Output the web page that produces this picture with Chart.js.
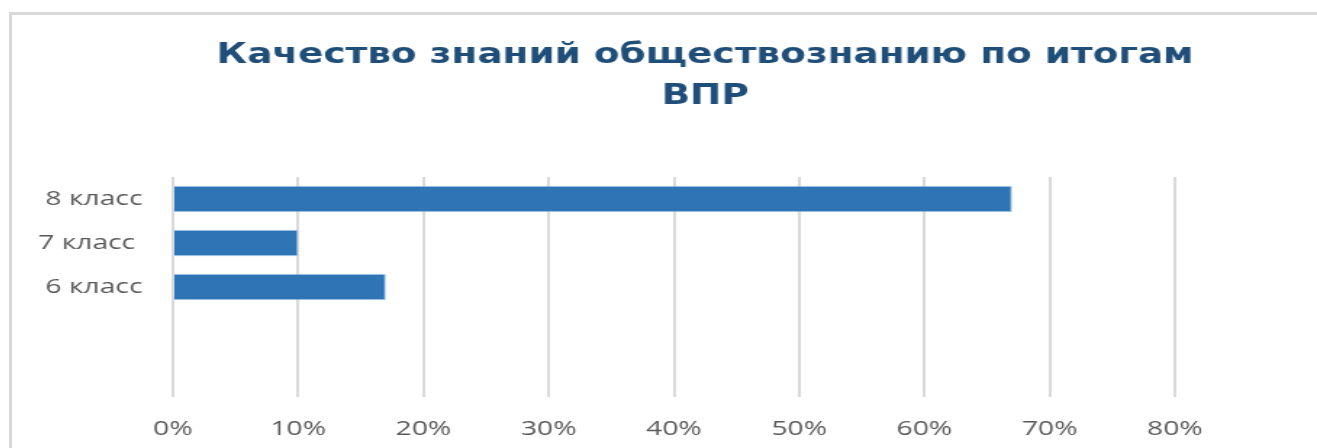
<!DOCTYPE html>
<html>
<head>
<meta charset="utf-8">
<script src="https://cdn.jsdelivr.net/npm/chart.js@4/dist/chart.umd.min.js"></script>
<style>
  html, body { margin: 0; padding: 0; background: #fff; overflow: hidden; width: 1317px; height: 448px; }
  #frame { position: absolute; left: 9px; top: 12px; width: 1400px; height: 460px;
           border-left: 3px solid #d9d9d9; border-top: 3px solid #d9d9d9; background: #fff; }
  #stretch { position: absolute; left: 0; top: 0; transform-origin: 0 0; transform: scaleX(1.45); }
</style>
</head>
<body>
<div id="frame"><div id="stretch"><canvas id="c" width="956" height="433"></canvas></div></div>
<script>
const titleLines = ['Качество знаний обществознанию по итогам', 'ВПР'];
const categories = ['8 класс', '7 класс ', '6 класс', '', ''];
const values = [67, 10, 17, null, null];
const tickLabels = ['0%', '10%', '20%', '30%', '40%', '50%', '60%', '70%', '80%'];

const ctx = document.getElementById('c');
new Chart(ctx, {
  type: 'bar',
  data: {
    labels: categories,
    datasets: [{
      data: values,
      backgroundColor: '#2E75B6',
      borderColor: 'rgba(157,195,230,0.9)',
      borderWidth: 1,
      barPercentage: 0.6,
      categoryPercentage: 1.0
    }]
  },
  options: {
    indexAxis: 'y',
    responsive: false,
    animation: false,
    devicePixelRatio: 1,
    layout: { padding: 0 },
    plugins: {
      legend: { display: false },
      tooltip: { enabled: false },
      title: {
        display: true,
        text: titleLines,
        color: '#1F4E79',
        font: { family: "'Liberation Sans Narrow', 'DejaVu Sans Condensed', Roboto, sans-serif", size: 28.7, weight: 'bold', lineHeight: 41/28.7 },
        padding: { top: 20.5, bottom: 59.5 }
      }
    },
    scales: {
      x: {
        type: 'linear',
        position: 'bottom',
        min: 0, max: 80,
        ticks: {
          stepSize: 10,
          color: '#595959',
          padding: 21,
          font: { family: "'Open Sans', sans-serif", size: 19.5 },
          callback: (v, i) => tickLabels[Math.round(v / 10)]
        },
        grid: { color: '#d9d9d9', lineWidth: 2, drawTicks: false },
        border: { display: false },
        afterFit: (s) => { s.height = 51; }
      },
      y: {
        type: 'category',
        position: 'left',
        ticks: {
          color: '#595959',
          padding: 21,
          font: { family: "'Open Sans', sans-serif", size: 19.5 }
        },
        grid: { display: false, drawTicks: false },
        border: { display: false },
        afterFit: (s) => { s.width = 111; }
      },
      yRight: {
        type: 'category',
        position: 'right',
        display: true,
        ticks: { display: false },
        grid: { display: false, drawTicks: false },
        border: { display: false },
        afterFit: (s) => { s.width = 154; }
      }
    }
  }
});
</script>
</body>
</html>
